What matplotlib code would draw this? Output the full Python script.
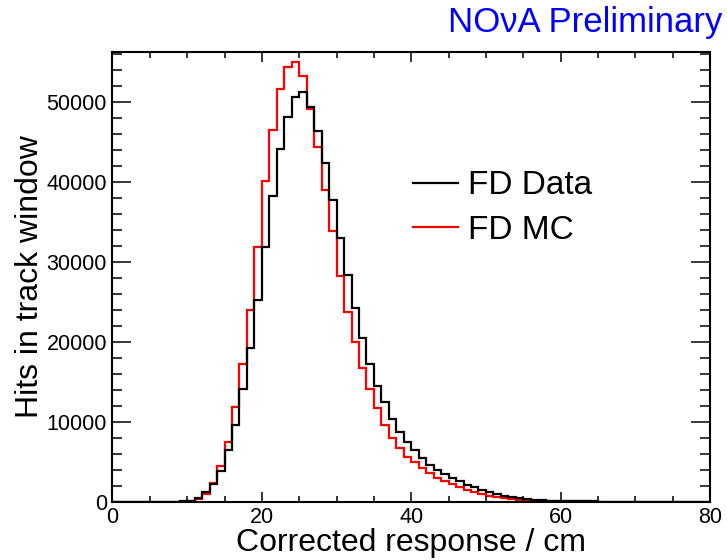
import numpy as np
import matplotlib
matplotlib.use('Agg')
import matplotlib.pyplot as plt
from matplotlib.ticker import MultipleLocator

plt.rcParams['font.family'] = ['Liberation Sans', 'DejaVu Sans']

# bin edges 0..80, width 1
edges = np.arange(0, 81, 1)

# FD Data, counts per bin
fd_data = [0, 0, 0, 0, 0, 0, 0, 0, 0, 30,
           150, 450, 1170, 2210, 3880, 6460, 9590, 14040, 19170, 25250,
           31780, 38250, 44070, 48125, 50625, 51175, 49375, 46375, 42300, 37710,
           32925, 28340, 24175, 20520, 17250, 14520, 12400, 10350, 8690, 7500,
           6500, 5420, 4630, 4000, 3430, 2930, 2560, 2150, 1800, 1500,
           1200, 980, 760, 580, 450, 330, 250, 180, 140, 110,
           90, 70, 55, 45, 35, 0, 0, 0, 0, 0,
           0, 0, 0, 0, 0, 0, 0, 0, 0, 0]

# FD MC
fd_mc = [0, 0, 0, 0, 0, 0, 0, 0, 0, 0,
         80, 300, 1000, 2350, 4420, 7500, 11830, 17250, 23900, 31800,
         40100, 46460, 51590, 54270, 54920, 53230, 49130, 44300, 38960, 33840,
         28210, 23675, 20000, 16770, 14080, 11700, 9560, 7980, 6670, 5625,
         4950, 4250, 3540, 3020, 2600, 2190, 1800, 1500, 1200, 980,
         770, 600, 440, 310, 220, 150, 110, 90, 70, 60,
         50, 40, 35, 30, 25, 0, 0, 0, 0, 0,
         0, 0, 0, 0, 0, 0, 0, 0, 0, 0]

fig = plt.figure(figsize=(7.27, 5.6), dpi=100)
ax = fig.add_axes([0.1547, 0.1041, 0.822, 0.803])

ax.stairs(fd_mc, edges, color='red', linewidth=1.6, label='FD MC')
ax.stairs(fd_data, edges, color='black', linewidth=1.6, label='FD Data')

ax.set_xlim(0, 80)
ax.set_ylim(0, 56200)

ax.xaxis.set_major_locator(MultipleLocator(20))
ax.xaxis.set_minor_locator(MultipleLocator(5))
ax.yaxis.set_major_locator(MultipleLocator(10000))
ax.yaxis.set_minor_locator(MultipleLocator(2000))

ax.tick_params(axis='both', which='both', direction='in', top=True, right=True, width=1.1)
ax.tick_params(axis='x', which='major', length=7.5, labelsize=15.5, pad=4)
ax.tick_params(axis='x', which='minor', length=4)
ax.tick_params(axis='y', which='major', length=14, labelsize=15.5, pad=4)
ax.tick_params(axis='y', which='minor', length=7.5)
for s in ax.spines.values():
    s.set_linewidth(1.5)

ax.set_xlabel('Corrected response / cm', fontsize=23, labelpad=0)
ax.set_ylabel('Hits in track window', fontsize=23, labelpad=1)

# legend: data first, then MC
h, l = ax.get_legend_handles_labels()
ax.legend(h[::-1], l[::-1], loc='upper left', bbox_to_anchor=(0.503, 0.737),
          frameon=False, fontsize=24, handlelength=1.35, handletextpad=0.3,
          labelspacing=0.4, borderpad=0, borderaxespad=0)

fig.text(0.993, 0.99, 'NOνA Preliminary', color='blue', fontsize=25,
         ha='right', va='top')

fig.savefig('out.png', dpi=100)
